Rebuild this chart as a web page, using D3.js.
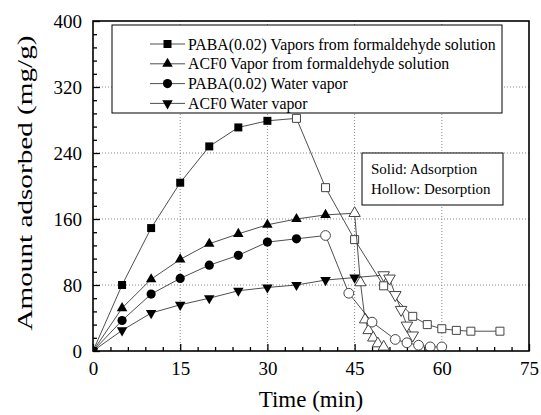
<!DOCTYPE html>
<html>
<head>
<meta charset="utf-8">
<script src="https://cdn.jsdelivr.net/npm/d3@7"></script>
<style>
  body { margin: 0; background: #fff; }
  text { font-family: "Liberation Serif", "Times New Roman", serif; fill: #000; }
</style>
</head>
<body>
<svg id="chart"></svg>
<script>
// series: time (min) and amount adsorbed (mg/g); first `solid` points are adsorption
const pabaFormTime = [0, 5, 10, 15, 20, 25, 30, 35, 40, 45, 50, 55, 57.5, 60, 62.5, 65, 70];
const pabaFormVal  = [0, 80, 149, 204, 248, 271, 279, 282, 198, 135, 79, 42, 32, 27, 25, 24, 24];
const pabaFormSolid = 7;

const acfFormTime = [0, 5, 10, 15, 20, 25, 30, 35, 40, 45, 46, 46.8, 47.4, 48.2, 49, 50];
const acfFormVal  = [0, 52, 87, 111, 130, 142, 153, 160, 165, 167, 83, 38, 25, 16, 9, 5];
const acfFormSolid = 9;

const pabaWaterTime = [0, 5, 10, 15, 20, 25, 30, 35, 40, 44, 48, 52, 54, 56, 58, 60];
const pabaWaterVal  = [0, 37, 69, 88, 104, 116, 132, 136, 140, 70, 35, 14, 10, 7, 5, 5];
const pabaWaterSolid = 8;

const acfWaterTime = [0, 5, 10, 15, 20, 25, 30, 35, 40, 45, 50, 51, 52, 53, 54, 55];
const acfWaterVal  = [0, 25, 46, 56, 64, 73, 77, 80, 86, 89, 92, 88, 68, 50, 31, 19];
const acfWaterSolid = 10;

const seriesNames = [
  'PABA(0.02) Vapors from formaldehyde solution',
  'ACF0 Vapor from formaldehyde solution',
  'PABA(0.02) Water vapor',
  'ACF0 Water vapor'
];

const xTicks = [0, 15, 30, 45, 60, 75];
const yTicks = [0, 80, 160, 240, 320, 400];

const W = 541, H = 415;
const margin = {top: 21, right: 12, bottom: 64, left: 93};
const width = W - margin.left - margin.right;
const height = H - margin.top - margin.bottom;

const svg = d3.select('#chart')
  .attr('width', W)
  .attr('height', H);

const g = svg.append('g')
  .attr('transform', `translate(${margin.left},${margin.top})`);

const x = d3.scaleLinear().domain([0, 75]).range([0, width]);
const y = d3.scaleLinear().domain([0, 400]).range([height, 0]);

g.append('clipPath').attr('id', 'plot-clip')
  .append('rect').attr('width', width).attr('height', height);

// dotted grid
g.selectAll('.vgrid')
  .data(xTicks.slice(1, -1)).join('line')
  .attr('x1', d => x(d)).attr('x2', d => x(d))
  .attr('y1', 0).attr('y2', height)
  .attr('stroke', '#8a8a8a').attr('stroke-width', 1)
  .attr('stroke-dasharray', '1,2');
g.selectAll('.hgrid')
  .data(yTicks.slice(1, -1)).join('line')
  .attr('y1', d => y(d)).attr('y2', d => y(d))
  .attr('x1', 0).attr('x2', width)
  .attr('stroke', '#8a8a8a').attr('stroke-width', 1)
  .attr('stroke-dasharray', '1,2');

// axes, ticks pointing inward
const xMinor = d3.range(0, 76, 3).filter(d => d % 15 !== 0);
const yMinor = d3.range(0, 401, 16).filter(d => d % 80 !== 0);

const xAxis = g.append('g').attr('transform', `translate(0,${height})`)
  .call(d3.axisBottom(x).tickValues(xTicks).tickSizeInner(-7).tickSizeOuter(0).tickPadding(11));
g.append('g').attr('transform', `translate(0,${height})`)
  .call(d3.axisBottom(x).tickValues(xMinor).tickSizeInner(-4).tickSizeOuter(0).tickFormat(''));
const yAxis = g.append('g')
  .call(d3.axisLeft(y).tickValues(yTicks).tickSizeInner(-7).tickSizeOuter(0).tickPadding(11));
g.append('g')
  .call(d3.axisLeft(y).tickValues(yMinor).tickSizeInner(-4).tickSizeOuter(0).tickFormat(''));

g.selectAll('.domain').remove();
g.selectAll('.tick line').attr('stroke', '#000').attr('stroke-width', 1.3);
xAxis.selectAll('text').style('font-size', '19px').style('font-family', '"Liberation Serif", serif');
yAxis.selectAll('text').style('font-size', '19px').style('font-family', '"Liberation Serif", serif');

// data
const series = [
  {t: pabaFormTime, v: pabaFormVal, solid: pabaFormSolid, sym: d3.symbolSquare, size: 64, hsize: 64, rot: 0},
  {t: acfFormTime, v: acfFormVal, solid: acfFormSolid, sym: d3.symbolTriangle, size: 48, hsize: 55, rot: 0},
  {t: pabaWaterTime, v: pabaWaterVal, solid: pabaWaterSolid, sym: d3.symbolCircle, size: 66, hsize: 75, rot: 0},
  {t: acfWaterTime, v: acfWaterVal, solid: acfWaterSolid, sym: d3.symbolTriangle, size: 48, hsize: 58, rot: 180}
];

const line = d3.line().x(d => x(d[0])).y(d => y(d[1]));
const plot = g.append('g').attr('clip-path', 'url(#plot-clip)');

series.forEach(s => {
  const pts = s.t.map((t, i) => [t, s.v[i], i < s.solid]);
  plot.append('path')
    .attr('d', line(pts))
    .attr('fill', 'none')
    .attr('stroke', '#222')
    .attr('stroke-width', 0.8);
  plot.selectAll(null)
    .data(pts).join('path')
    .attr('d', d => d3.symbol(s.sym, d[2] ? s.size : s.hsize)())
    .attr('transform', d => `translate(${x(d[0])},${y(d[1])}) rotate(${s.rot})`)
    .attr('fill', d => d[2] ? '#000' : '#fff')
    .attr('stroke', d => d[2] ? '#000' : '#444')
    .attr('stroke-width', d => d[2] ? 0 : 1);
});

// frame
g.append('rect')
  .attr('width', width).attr('height', height)
  .attr('fill', 'none').attr('stroke', '#000').attr('stroke-width', 1.6);

// legend
const leg = svg.append('g');
leg.append('rect')
  .attr('x', 112).attr('y', 25).attr('width', 390).attr('height', 88)
  .attr('fill', '#fff').attr('stroke', '#000').attr('stroke-width', 1);
seriesNames.forEach((name, i) => {
  const s = series[i];
  const cy = 44 + i * 19.8;
  leg.append('line')
    .attr('x1', 150).attr('x2', 185).attr('y1', cy).attr('y2', cy)
    .attr('stroke', '#222').attr('stroke-width', 0.8);
  leg.append('path')
    .attr('d', d3.symbol(s.sym, s.size)())
    .attr('transform', `translate(167.5,${cy}) rotate(${s.rot})`)
    .attr('fill', '#000');
  leg.append('text')
    .attr('x', 188).attr('y', cy + 5.5)
    .style('font-size', '15.8px')
    .text(name);
});

// annotation
const note = svg.append('g');
note.append('rect')
  .attr('x', 362).attr('y', 153).attr('width', 141).attr('height', 52)
  .attr('fill', '#fff').attr('stroke', '#000').attr('stroke-width', 1);
note.append('text').attr('x', 371).attr('y', 174).style('font-size', '15px').text('Solid: Adsorption');
note.append('text').attr('x', 371).attr('y', 193.5).style('font-size', '15px').text('Hollow: Desorption');

// axis titles
svg.append('text')
  .attr('x', margin.left + width / 2).attr('y', 407)
  .attr('text-anchor', 'middle')
  .style('font-size', '23px')
  .text('Time (min)');
svg.append('text')
  .attr('transform', `translate(32,${margin.top + height / 2 - 3}) rotate(-90)`)
  .attr('text-anchor', 'middle')
  .attr('textLength', 295)
  .attr('lengthAdjust', 'spacingAndGlyphs')
  .style('font-size', '22px')
  .text('Amount adsorbed (mg/g)');
</script>
</body>
</html>
